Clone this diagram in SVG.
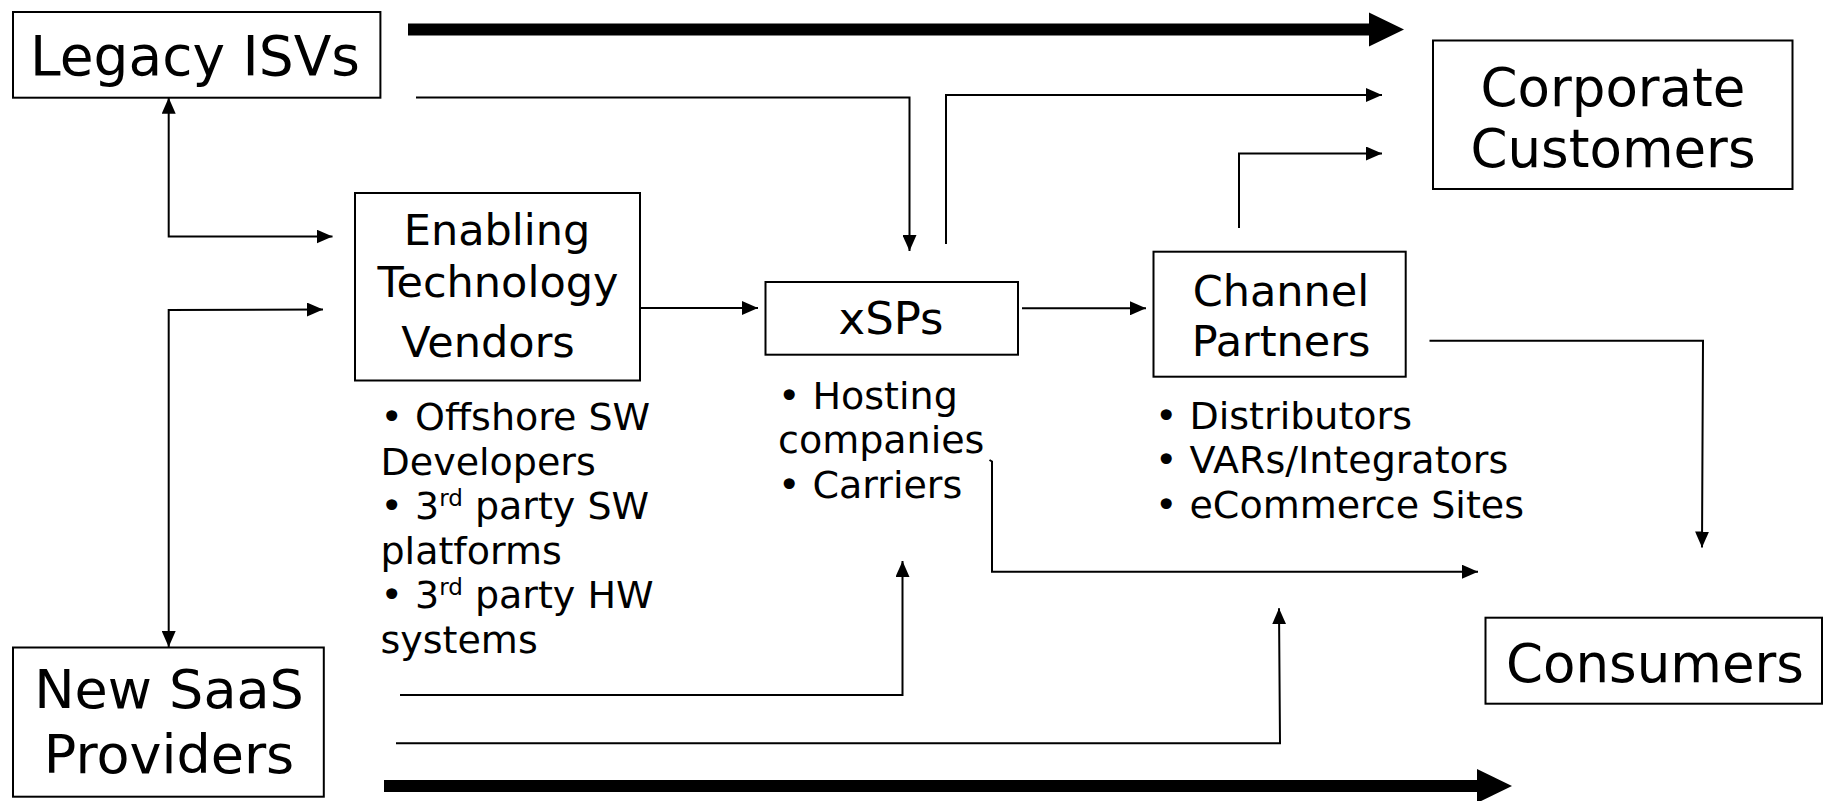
<svg xmlns="http://www.w3.org/2000/svg" width="1824" height="801" viewBox="0 0 1824 801">
  <style>
    .box { fill: #ffffff; stroke: #000000; stroke-width: 2; }
    .big { font-family: "DejaVu Sans", Verdana, sans-serif; font-size: 53px; fill: #000; text-anchor: middle; }
    .mid { font-family: "DejaVu Sans", Verdana, sans-serif; font-size: 43px; fill: #000; text-anchor: middle; }
    .lst { font-family: "DejaVu Sans", Verdana, sans-serif; font-size: 38px; fill: #000; }
    .sup { font-size: 23px; }
    .wire { fill: none; stroke: #000000; stroke-width: 2; }
    .thick { fill: none; stroke: #000000; stroke-width: 12; }
  </style>
  <defs>
    <marker id="tip" markerUnits="userSpaceOnUse" markerWidth="16" markerHeight="14" refX="16" refY="7" orient="auto">
      <path d="M0,0 L16,7 L0,14 Z" fill="#000"/>
    </marker>
    <marker id="tipStart" markerUnits="userSpaceOnUse" markerWidth="16" markerHeight="14" refX="0" refY="7" orient="auto">
      <path d="M16,0 L0,7 L16,14 Z" fill="#000"/>
    </marker>
    <marker id="bigTip" markerUnits="userSpaceOnUse" markerWidth="36" markerHeight="36" refX="1" refY="18" orient="auto">
      <path d="M0,1 L35,18 L0,35 Z" fill="#000"/>
    </marker>
  </defs>

  <rect width="1824" height="801" fill="#ffffff"/>

  <!-- connectors -->
  <g id="connectors">
    <!-- broad direct channels -->
    <line class="thick" x1="408" y1="29.5" x2="1370" y2="29.5" marker-end="url(#bigTip)"/>
    <line class="thick" x1="384" y1="786" x2="1478" y2="786" marker-end="url(#bigTip)"/>

    <!-- Legacy ISVs to xSPs -->
    <polyline class="wire" points="416,97.5 909.5,97.5 909.5,251" marker-end="url(#tip)"/>
    <!-- xSPs to Corporate Customers -->
    <polyline class="wire" points="946,244 946,95 1382,95" marker-end="url(#tip)"/>
    <!-- Channel Partners to Corporate Customers -->
    <polyline class="wire" points="1239,228 1239,153.5 1382,153.5" marker-end="url(#tip)"/>
    <!-- Legacy ISVs <-> Enabling Technology Vendors -->
    <polyline class="wire" points="168.7,97.7 168.7,236.5 332.5,236.5" marker-start="url(#tipStart)" marker-end="url(#tip)"/>
    <!-- Enabling Technology Vendors <-> New SaaS Providers -->
    <polyline class="wire" points="323,309.5 168.7,310 168.7,647" marker-start="url(#tipStart)" marker-end="url(#tip)"/>
    <!-- Enabling Technology Vendors to xSPs -->
    <line class="wire" x1="640" y1="308" x2="758" y2="308" marker-end="url(#tip)"/>
    <!-- xSPs to Channel Partners -->
    <line class="wire" x1="1022" y1="308.3" x2="1146" y2="308.3" marker-end="url(#tip)"/>
    <!-- Channel Partners to Consumers -->
    <polyline class="wire" points="1429.5,340.8 1703,340.8 1702,547.5" marker-end="url(#tip)"/>
    <!-- xSPs to Consumers -->
    <polyline class="wire" points="989.5,460 992,461.5 992,571.7 1478,571.7" marker-end="url(#tip)"/>
    <!-- New SaaS Providers to xSPs -->
    <polyline class="wire" points="400,695 902.5,695 902.5,561" marker-end="url(#tip)"/>
    <!-- New SaaS Providers to Channel Partners -->
    <polyline class="wire" points="396,743.3 1280,743.3 1279,608.3" marker-end="url(#tip)"/>
  </g>

  <g id="legacy-isvs">
    <rect class="box" x="13" y="12" width="367.4" height="85.7"/>
    <text class="big" x="195" y="75" style="font-size:55px">Legacy ISVs</text>
  </g>

  <g id="corporate-customers">
    <rect class="box" x="1433" y="40.5" width="359.5" height="148.5"/>
    <text class="big" x="1613" y="106">Corporate</text>
    <text class="big" x="1613" y="167">Customers</text>
  </g>

  <g id="enabling-technology-vendors">
    <rect class="box" x="355" y="193" width="285" height="187.5"/>
    <text class="mid" x="497" y="245">Enabling</text>
    <text class="mid" x="498" y="297">Technology</text>
    <text class="mid" x="488" y="357">Vendors</text>
    <text class="lst" x="380.5" y="430">• Offshore SW</text>
    <text class="lst" x="380.5" y="474.5">Developers</text>
    <text class="lst" x="380.5" y="519">• 3<tspan class="sup" dy="-13">rd</tspan><tspan dy="13"> party SW</tspan></text>
    <text class="lst" x="380.5" y="563.5">platforms</text>
    <text class="lst" x="380.5" y="608">• 3<tspan class="sup" dy="-13">rd</tspan><tspan dy="13"> party HW</tspan></text>
    <text class="lst" x="380.5" y="652.5">systems</text>
  </g>

  <g id="xsps">
    <rect class="box" x="765.5" y="282" width="252.5" height="72.7"/>
    <text class="mid" x="891" y="334" style="font-size:45px">xSPs</text>
    <text class="lst" x="778" y="409">• Hosting</text>
    <text class="lst" x="778" y="452.5">companies</text>
    <text class="lst" x="778" y="497.5">• Carriers</text>
  </g>

  <g id="channel-partners">
    <rect class="box" x="1153.5" y="251.7" width="252.2" height="125"/>
    <text class="mid" x="1281" y="305.5">Channel</text>
    <text class="mid" x="1281" y="356">Partners</text>
    <text class="lst" x="1155" y="429">• Distributors</text>
    <text class="lst" x="1155" y="473">• VARs/Integrators</text>
    <text class="lst" x="1155" y="517.5">• eCommerce Sites</text>
  </g>

  <g id="consumers">
    <rect class="box" x="1485.5" y="617.7" width="336.5" height="86"/>
    <text class="big" x="1655" y="682">Consumers</text>
  </g>

  <g id="new-saas-providers">
    <rect class="box" x="13" y="647.5" width="310.8" height="149.2"/>
    <text class="big" x="169" y="708" style="font-size:54px">New SaaS</text>
    <text class="big" x="169" y="773" style="font-size:54px">Providers</text>
  </g>
</svg>
